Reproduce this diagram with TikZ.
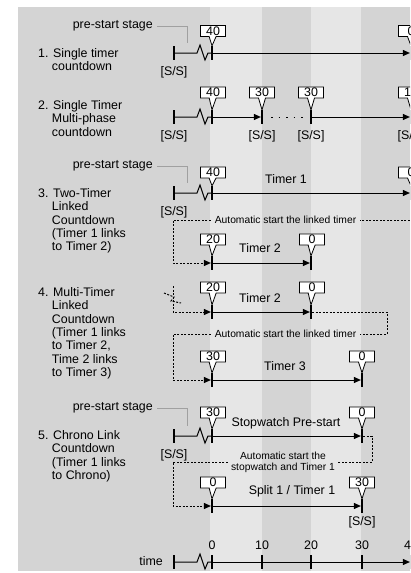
\documentclass[tikz,border=0pt]{standalone}
\usepackage{fontspec}
\setmainfont{Liberation Sans}
\usetikzlibrary{arrows.meta, positioning, shapes.callouts}

\definecolor{bandDark}{HTML}{D4D4D4}
\definecolor{bandLight}{HTML}{E6E6E6}
\definecolor{leadGray}{HTML}{A0A0A0}
\newcommand{\indentrow}{\phantom{1.}\ }

\begin{document}
\begin{tikzpicture}[x=1pt, y=-1pt,
    txt/.style={inner sep=0pt, align=left, font=\fontsize{12.4}{13.3}\selectfont},
    lbl/.style={inner sep=1pt, font=\fontsize{12.4}{13.3}\selectfont},
    note/.style={inner sep=4pt, align=center, font=\fontsize{10.3}{11}\selectfont},
    flag/.style={rectangle callout, draw, fill=white, line width=0.8pt, inner sep=0pt, minimum width=25pt, minimum height=11pt, callout pointer width=7pt, font=\fontsize{12.4}{13}\selectfont},
    tick/.style={fill=black, inner sep=0pt, minimum width=1.8pt, minimum height=14pt},
    line/.style={line width=1pt},
    arrow/.style={line width=1pt, -{Triangle[length=7pt, width=6pt]}},
    link/.style={line width=1pt, dash pattern=on 2pt off 1.5pt},
    linkarrow/.style={link, -{Triangle[length=7pt, width=6pt]}},
    lead/.style={draw=leadGray, line width=1pt},
    zig/.style={insert path={-- ++(23,0) -- ++(3,-8) -- ++(5,15) -- ++(3,-7)}}
]
\useasboundingbox (0,0) rectangle (410,573);
\clip (0,0) rectangle (410,573);

% background bands
\fill[bandDark] (18,7) rectangle (440,571);
\fill[bandLight] (210,7) rectangle (262,571);
\fill[bandLight] (311,7) rectangle (361,571);

% 1. single timer
\node[txt, anchor=north west] (d1) at (38,48.5) {1. Single timer\\\indentrow countdown};
\node[lbl, anchor=east, inner sep=0pt] (pre1) at (153,26) {pre-start stage};
\coordinate (p1) at (187,43);
\node[tick] (s1) at (174,53) {};
\node[tick] (a1) at (212,53) {};
\node[tick] (b1) at (411,53) {};
\node[lbl] (ss1) at (174,72) {[S/S]};
\node[flag, callout absolute pointer={(a1.north)}] (f1a) at (213,31) {40};
\node[flag, callout absolute pointer={(b1.north)}] (f1b) at (411,31) {0};
\draw[lead] ([xshift=4pt]pre1.east) -| (p1);
\draw[line] (s1) [zig] -- (a1);
\draw[arrow] (a1) -- (b1);

% 2. multi-phase
\node[txt, anchor=north west] (d2) at (38,100.5) {2. Single Timer\\\indentrow Multi-phase\\\indentrow countdown};
\node[tick] (s2) at (174,117) {};
\node[tick] (a2) at (212,117) {};
\node[tick] (b2) at (262,117) {};
\node[tick] (c2) at (311,117) {};
\node[tick] (e2) at (411,117) {};
\node[flag, callout absolute pointer={(a2.north)}] (f2a) at (213,92.5) {40};
\node[flag, callout absolute pointer={(b2.north)}] (f2b) at (262,92.5) {30};
\node[flag, callout absolute pointer={(c2.north)}] (f2c) at (311,92.5) {30};
\node[flag, callout absolute pointer={(e2.north)}] (f2e) at (411,92.5) {10};
\node[lbl] (ss2) at (174,136) {[S/S]};
\node[lbl] (ss2b) at (262,136) {[S/S]};
\node[lbl] (ss2c) at (311,136) {[S/S]};
\node[lbl] (ss2e) at (411,136) {[S/S]};
\draw[line] (s2) [zig] -- (a2);
\draw[arrow] (a2) -- (b2);
\draw[line, dash pattern=on 1.5pt off 6pt, shorten <=8pt, shorten >=6pt] (b2) -- (c2);
\draw[arrow] (c2) -- (e2);

% 3. two-timer linked
\node[txt, anchor=north west] (d3) at (38,188.5) {3. Two-Timer\\\indentrow Linked\\\indentrow Countdown\\\indentrow (Timer 1 links\\\indentrow to Timer 2)};
\node[lbl, anchor=east, inner sep=0pt] (pre3) at (153,166) {pre-start stage};
\coordinate (p3) at (187,183);
\node[tick] (s3) at (174,193) {};
\node[tick] (a3) at (212,193) {};
\node[tick] (b3) at (411,193) {};
\node[lbl] (ss3) at (174,212) {[S/S]};
\node[flag, callout absolute pointer={(a3.north)}] (f3a) at (213,172.5) {40};
\node[flag, callout absolute pointer={(b3.north)}] (f3b) at (411,172.5) {0};
\node[lbl] (tm1) at (286,179) {Timer 1};
\draw[lead] ([xshift=4pt]pre3.east) -| (p3);
\draw[line] (s3) [zig] -- (a3);
\draw[arrow] (a3) -- (b3);

\node[note] (n3) at (285.5,220) {Automatic start the linked timer};
\coordinate (k3) at (173,220);
\node[tick] (a3t) at (212,263) {};
\node[tick] (b3t) at (311,263) {};
\node[flag, callout absolute pointer={(a3t.north)}] (f3c) at (213,239.5) {20};
\node[flag, callout absolute pointer={(b3t.north)}] (f3d) at (312,239.5) {0};
\node[lbl] (tm2) at (260,248) {Timer 2};
\draw[link] (b3) -- ++(25,0) |- (n3.east);
\draw[linkarrow] (n3.west) -- (k3) |- (a3t);
\draw[arrow] (a3t) -- (b3t);

% 4. multi-timer linked
\node[txt, anchor=north west] (d4) at (38,287.5) {4. Multi-Timer\\\indentrow Linked\\\indentrow Countdown\\\indentrow (Timer 1 links\\\indentrow to Timer 2,\\\indentrow Time 2 links\\\indentrow to Timer 3)};
\node[tick] (a4) at (212,312) {};
\node[tick] (b4) at (311,312) {};
\node[flag, callout absolute pointer={(a4.north)}] (f4a) at (213,287.5) {20};
\node[flag, callout absolute pointer={(b4.north)}] (f4b) at (312,287.5) {0};
\node[lbl] (tm3) at (260,298) {Timer 2};
\coordinate (k4u) at (173,286);
\draw[linkarrow] (k4u) |- (a4);
\draw[link] (164,293) -- (174,297) -- (171,301) -- (181,303);
\draw[arrow] (a4) -- (b4);

\node[note] (n4) at (285.5,334) {Automatic start the linked timer};
\coordinate (k4r) at (387,334);
\coordinate (k4) at (173,334);
\node[tick] (a4t) at (212,380) {};
\node[tick] (b4t) at (362,380) {};
\node[flag, callout absolute pointer={(a4t.north)}] (f4c) at (213,356.5) {30};
\node[flag, callout absolute pointer={(b4t.north)}] (f4d) at (362,356.5) {0};
\node[lbl] (tm4) at (285,366) {Timer 3};
\draw[link] (b4) -| (k4r) -- (n4.east);
\draw[linkarrow] (n4.west) -- (k4) |- (a4t);
\draw[arrow] (a4t) -- (b4t);

% 5. chrono link
\node[txt, anchor=north west] (d5) at (38,430.5) {5. Chrono Link\\\indentrow Countdown\\\indentrow (Timer 1 links\\\indentrow to Chrono)};
\node[lbl, anchor=east, inner sep=0pt] (pre5) at (153,408) {pre-start stage};
\coordinate (p5) at (187,426);
\node[tick] (s5) at (174,436) {};
\node[tick] (a5) at (212,436) {};
\node[tick] (b5) at (362,436) {};
\node[lbl] (ss5) at (174,455) {[S/S]};
\node[flag, callout absolute pointer={(a5.north)}] (f5a) at (213,412.5) {30};
\node[flag, callout absolute pointer={(b5.north)}] (f5b) at (362,412.5) {0};
\node[lbl] (tm5) at (286,423) {Stopwatch Pre-start};
\draw[lead] ([xshift=4pt]pre5.east) -| (p5);
\draw[line] (s5) [zig] -- (a5);
\draw[arrow] (a5) -- (b5);

\node[note, inner sep=3pt] (n5) at (283,462) {Automatic start the\\stopwatch and Timer 1};
\coordinate (k5r) at (372,462);
\coordinate (k5) at (173,462);
\node[tick] (a5t) at (212,506) {};
\node[tick] (b5t) at (362,506) {};
\node[flag, callout absolute pointer={(a5t.north)}] (f5c) at (213,482.5) {0};
\node[flag, callout absolute pointer={(b5t.north)}] (f5d) at (362,482.5) {30};
\node[lbl] (tm6) at (292,491) {Split 1 / Timer 1};
\node[lbl] (ss5b) at (362,522) {[S/S]};
\draw[link] (b5) -| (k5r) -- (n5.east);
\draw[linkarrow] (n5.west) -- (k5) |- (a5t);
\draw[arrow] (a5t) -- (b5t);

% time axis
\node[lbl, anchor=east, inner sep=0pt] (tlab) at (163,561) {time};
\node[tick] (s6) at (174,562) {};
\foreach \t/\x in {0/212, 10/262, 20/311, 30/362, 40/411} {
    \node[tick] (g\t) at (\x,562) {};
    \node[lbl] (v\t) at (\x,545) {\t};
}
\draw[line] (s6) [zig] -- (g0);
\draw[arrow] (g0) -- (g40);
\end{tikzpicture}
\end{document}
